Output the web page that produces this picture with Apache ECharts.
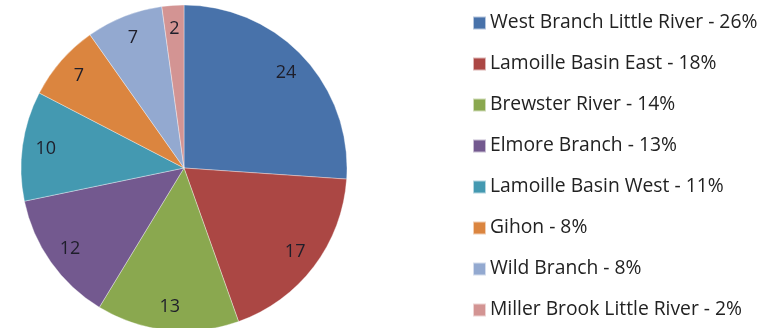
<!DOCTYPE html>
<html><head><meta charset="utf-8">
<script src="https://cdn.jsdelivr.net/npm/echarts@6/dist/echarts.min.js"></script>
<style>html,body{margin:0;padding:0;background:#fff}#c{width:767px;height:328px}</style>
</head><body><div id="c"></div>
<script>
const categories = ["West Branch Little River","Lamoille Basin East","Brewster River","Elmore Branch","Lamoille Basin West","Gihon","Wild Branch","Miller Brook Little River"];
const values = [24,17,13,12,10,7,7,2];
const percents = ["26%","18%","14%","13%","11%","8%","8%","2%"];
const colors = ["#4872aa","#ab4744","#8aa84f","#73598f","#4499b1","#db853f","#93a9d0","#d39493"];

const data = categories.map((n,i)=>({name:n,value:values[i],itemStyle:{color:colors[i]}}));
const chart = echarts.init(document.getElementById('c'));
chart.setOption({
  animation:false,
  legend:{
    orient:'vertical', left:472, top:13, padding:0,
    icon:'rect', itemWidth:13, itemHeight:13, itemGap:21,
    data:categories,
    textStyle:{fontFamily:'Open Sans', fontSize:19.3, color:'#222', lineHeight:20, padding:[0,0,0,-1]},
    formatter:(n)=> n + ' - ' + percents[categories.indexOf(n)]
  },
  series:[
    {type:'pie', center:[184,168], radius:163, startAngle:90, clockwise:true,
     data:data, label:{show:false}, labelLine:{show:false},
     itemStyle:{borderColor:'rgba(255,255,255,0.6)', borderWidth:0.6}, silent:true},
    {type:'pie', center:[184,168], radius:[110,163], startAngle:90, clockwise:true,
     data:categories.map((n,i)=>({name:n,value:values[i]})),
     itemStyle:{color:'rgba(0,0,0,0)'}, silent:true,
     label:{show:true, position:'inside', formatter:'{c}', fontFamily:'Open Sans', fontSize:18, color:'#1e1e2a'},
     labelLine:{show:false}}
  ]
});
</script></body></html>
